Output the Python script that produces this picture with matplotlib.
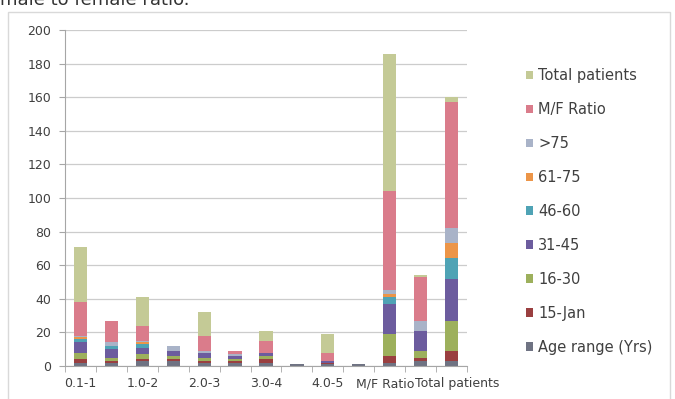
import matplotlib
matplotlib.use("Agg")
import matplotlib.pyplot as plt
import numpy as np
from matplotlib.patches import Rectangle
import matplotlib.transforms as mtransforms

# Categories (Excel shows every other label)
categories = ["0.1-1", "", "1.0-2", "", "2.0-3", "", "3.0-4", "", "4.0-5", "", "M/F Ratio", "", "Total patients"]

series_names = ["Age range (Yrs)", "15-Jan", "16-30", "31-45", "46-60", "61-75", ">75", "M/F Ratio", "Total patients"]

age_range = [2, 2, 3, 3, 2, 2, 2, 1, 1, 1, 2, 3, 3]
jan_15    = [2, 1, 1, 1, 1, 1, 2, 0, 1, 0, 4, 2, 6]
s16_30    = [4, 2, 3, 2, 2, 1, 2, 0, 0, 0, 13, 4, 18]
s31_45    = [6, 5, 4, 3, 3, 2, 2, 0, 1, 0, 18, 12, 25]
s46_60    = [2, 2, 2, 0, 0, 0, 0, 0, 0, 0, 4, 0, 12]
s61_75    = [1, 0, 1, 0, 0, 0, 0, 0, 0, 0, 2, 0, 9]
s_gt75    = [1, 2, 1, 3, 1, 1, 0, 0, 0, 0, 2, 6, 9]
mf_ratio  = [20, 13, 9, 0, 9, 2, 7, 0, 5, 0, 59, 26, 75]
total_pat = [33, 0, 17, 0, 14, 0, 6, 0, 11, 0, 82, 1, 3]

series_values = [age_range, jan_15, s16_30, s31_45, s46_60, s61_75, s_gt75, mf_ratio, total_pat]
colors = ["#6f7383", "#9a3f40", "#9db05c", "#6c5c9e", "#4fa3b5", "#ec9548",
          "#a9b3c8", "#da7c8b", "#c4ca96"]

fig = plt.figure(figsize=(6.75, 3.99), dpi=100)
ax = fig.add_axes([65/675, 1-366/399, (467-65)/675, (366-30)/399])

x = np.arange(len(categories))
bottom = np.zeros(len(categories))
handles = []
for name, vals, c in zip(series_names, series_values, colors):
    v = np.array(vals, dtype=float)
    b = ax.bar(x, v, bottom=bottom, width=0.43, color=c, label=name, linewidth=0)
    handles.append(b)
    bottom += v

ax.set_xlim(-0.5, len(categories) - 0.5)
ax.set_ylim(0, 200)
ax.set_yticks(np.arange(0, 201, 20))
ax.yaxis.grid(True, color="#cccccc", linewidth=0.9)
ax.set_axisbelow(True)
for s in ["top", "right"]:
    ax.spines[s].set_visible(False)
ax.spines["left"].set_color("#a6a6a6")
ax.spines["bottom"].set_color("#a6a6a6")
ax.tick_params(axis="y", length=4, color="#a6a6a6", labelsize=9, labelcolor="#404040", pad=6)

ax.set_xticks(x[::2])
ax.set_xticklabels([categories[i] for i in range(0, len(categories), 2)])
ax.tick_params(axis="x", length=0, labelsize=9, labelcolor="#404040", pad=8)
ax.set_xticks(np.arange(-0.5, len(categories), 1), minor=True)
ax.tick_params(axis="x", which="minor", length=4, color="#a6a6a6")

# nudge the two crowded labels apart a little
xlabels = ax.get_xticklabels()
xlabels[-2].set_transform(xlabels[-2].get_transform() +
                          mtransforms.ScaledTranslation(-5/100, 0, fig.dpi_scale_trans))
xlabels[-1].set_transform(xlabels[-1].get_transform() +
                          mtransforms.ScaledTranslation(6/100, 0, fig.dpi_scale_trans))

leg = ax.legend(handles[::-1], series_names[::-1], loc="upper left",
                bbox_to_anchor=(526/675, 1-68/399), bbox_transform=fig.transFigure,
                frameon=False, fontsize=10.5, labelspacing=1.3, handlelength=0.5,
                handleheight=0.5, handletextpad=0.35, borderpad=0, borderaxespad=0)
for t in leg.get_texts():
    t.set_color("#404040")

# chart frame
fig.patches.append(Rectangle((8/675, -0.01), (670-8)/675, 1-12/399 + 0.01,
                             transform=fig.transFigure, fill=False,
                             edgecolor="#d9d9d9", linewidth=1))

fig.text(0.0, 1-5/399, "male to female ratio.", fontsize=13, color="#333333",
         va="baseline", ha="left")

fig.savefig("out.png", dpi=100)
